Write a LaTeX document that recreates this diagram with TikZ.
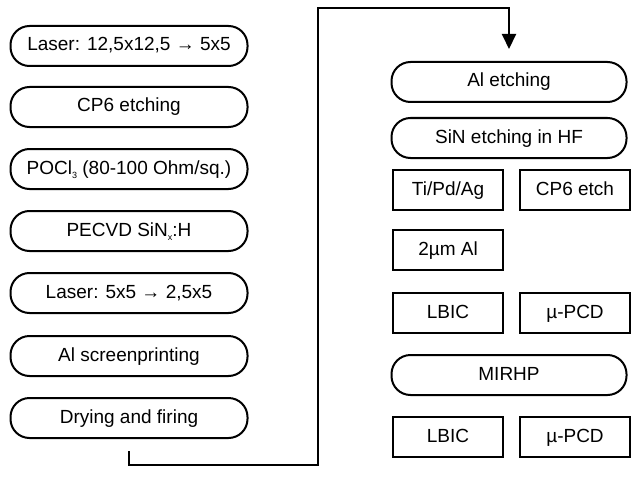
\documentclass[tikz,border=0pt]{standalone}
\usepackage{fontspec}
\setmainfont{Liberation Sans}
\usepackage{tikz}
\usetikzlibrary{arrows.meta,calc,positioning}
\newcommand{\lowsub}[1]{\raisebox{-0.45ex}{\fontsize{9}{9}\selectfont #1}}

\begin{document}
\begin{tikzpicture}[
  x=1pt, y=-1pt,
  font=\fontsize{19}{22}\selectfont,
  box/.style={draw, line width=2pt, minimum height=40pt, inner sep=0pt,
    text height=13.5pt, text depth=3.5pt, align=center},
  proc/.style={box, rounded corners=19pt, minimum width=237pt},
  meas/.style={box, minimum width=110pt},
  arr/.style={-{Triangle[length=15pt,width=14pt]}, line width=2pt}
]
\useasboundingbox (0,0) rectangle (631,476);

% left column
\node[proc] (lasera) at (129,46) {Laser: 12,5x12,5 → 5x5};
\node[proc] (cpsix) at (129,107) {CP6 etching};
\node[proc] (pocl) at (129,169) {POCl\lowsub{3} (80-100 Ohm/sq.)};
\node[proc] (pecvd) at (129,231) {PECVD SiN\lowsub{x}:H};
\node[proc] (laserb) at (129,293) {Laser: 5x5 → 2,5x5};
\node[proc] (alprint) at (129,356) {Al screenprinting};
\node[proc] (firing) at (129,418) {Drying and firing};

% right column
\node[proc, minimum width=235pt] (aletch) at (509,82) {Al etching};
\node[proc, minimum width=235pt] (sinetch) at (509,138) {SiN etching in HF};
\node[meas] (tipdag) at (448,190) {Ti/Pd/Ag};
\node[meas] (cpetch) at (575,190) {CP6 etch};
\node[meas] (alum) at (448,250) {2µm Al};
\node[meas] (lbica) at (448,313) {LBIC};
\node[meas] (pcda) at (575,313) {µ-PCD};
\node[proc, minimum width=235pt] (mirhp) at (509,375) {MIRHP};
\node[meas] (lbicb) at (448,437) {LBIC};
\node[meas] (pcdb) at (575,437) {µ-PCD};

\draw[arr, shorten <=12pt, shorten >=12pt] (firing.south) -- (firing.south |- 0,465) -| (318,8) -| (aletch.north);
\end{tikzpicture}
\end{document}
